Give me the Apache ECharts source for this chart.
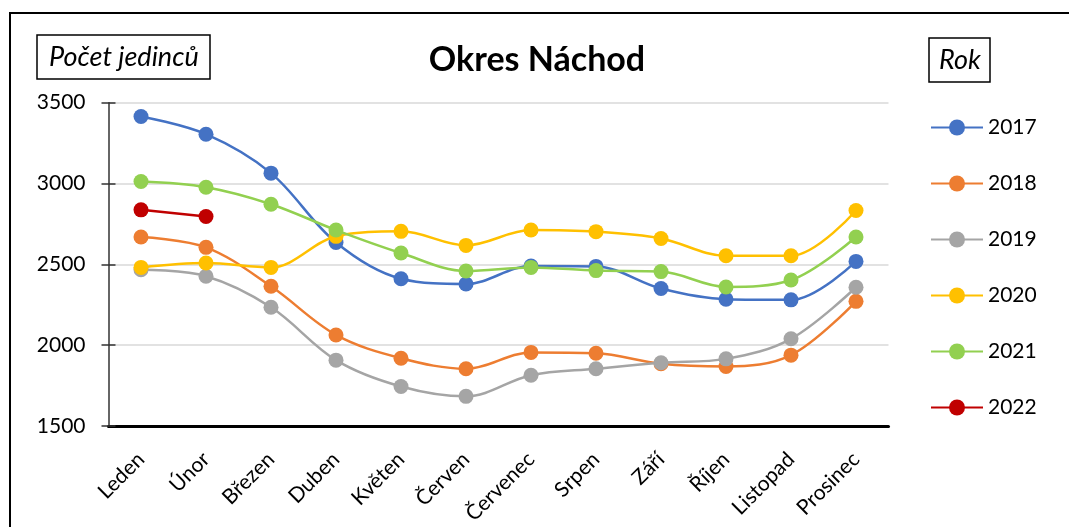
<!DOCTYPE html>
<html><head><meta charset="utf-8">
<script src="https://cdn.jsdelivr.net/npm/echarts@6/dist/echarts.min.js"></script>
<style>html,body{margin:0;padding:0;background:#fff;}#c{width:1069px;height:527px;}</style>
</head><body><div id="c"></div>
<script>
const months = ['Leden','Únor','Březen','Duben','Květen','Červen','Červenec','Srpen','Září','Říjen','Listopad','Prosinec'];
const years = ['2017','2018','2019','2020','2021','2022'];
const v2017 = [3415,3305,3064,2635,2411,2378,2490,2487,2350,2284,2280,2518];
const v2018 = [2669,2605,2364,2063,1919,1854,1955,1950,1885,1868,1938,2271];
const v2019 = [2467,2426,2234,1907,1744,1683,1814,1854,1891,1915,2039,2358];
const v2020 = [2481,2508,2481,2673,2704,2617,2712,2702,2660,2553,2553,2833];
const v2021 = [3012,2977,2872,2712,2570,2459,2481,2461,2455,2360,2403,2669];
const v2022 = [2837,2796,null,null,null,null,null,null,null,null,null,null];
const yTicks = [1500,2000,2500,3000,3500];
const colors = ['#4472C4','#ED7D31','#A5A5A5','#FFC000','#92D050','#C00000'];
const values = [v2017,v2018,v2019,v2020,v2021,v2022];
const FONT = 'Lato';

const chart = echarts.init(document.getElementById('c'), null, {renderer:'canvas'});
const series = years.map((y,i)=>({
  name:y, type:'line', data:values[i], smooth:0.35, symbol:'circle', symbolSize:15,
  showAllSymbol:true, connectNulls:false,
  lineStyle:{color:colors[i], width:2.5}, itemStyle:{color:colors[i]},
  emphasis:{disabled:true}, z:2+i
}));
chart.setOption({
  animation:false,
  textStyle:{fontFamily:FONT},
  title:[
    {text:'Okres Náchod', left:532, top:38, textAlign:'center',
     textStyle:{fontFamily:FONT, fontSize:34, fontWeight:'bold', color:'#000'}},
    {text:'Počet jedinců', left:37, top:35, borderColor:'#000', borderWidth:1.5, padding:[7,12,7,12],
     textStyle:{fontFamily:FONT, fontSize:27, fontStyle:'italic', fontWeight:'normal', color:'#000', lineHeight:30}},
    {text:'Rok', left:929, top:38, borderColor:'#000', borderWidth:1.5, padding:[7,10,7,10],
     textStyle:{fontFamily:FONT, fontSize:27, fontStyle:'italic', fontWeight:'normal', color:'#000', lineHeight:30}}
  ],
  legend:{
    orient:'vertical', left:930, top:117, itemWidth:52, itemHeight:20, itemGap:35, padding:0,
    data:years, textStyle:{fontFamily:FONT, fontSize:21, color:'#000'},
    selectedMode:false
  },
  graphic:[{type:'rect', shape:{x:10, y:13, width:1080, height:540},
    style:{fill:'none', stroke:'#000', lineWidth:2}, silent:true, z:100}],
  grid:{left:108.5, right:180.5, top:102.7, bottom:100.3, containLabel:false},
  xAxis:{type:'category', data:months, boundaryGap:true,
    axisLine:{lineStyle:{color:'#000', width:3}}, axisTick:{show:false},
    axisLabel:{rotate:45, interval:0, fontSize:21, color:'#000', fontFamily:FONT, margin:30},
    splitLine:{show:false}},
  yAxis:[
    {type:'value', min:yTicks[0], max:yTicks[yTicks.length-1], interval:500,
     axisLine:{show:true, lineStyle:{color:'#333', width:1.5}},
     axisTick:{show:true, inside:false, length:7, lineStyle:{color:'#333', width:1.5}},
     axisLabel:{fontSize:21, color:'#000', fontFamily:FONT, margin:23, formatter:(v)=>String(v)},
     splitLine:{show:true, lineStyle:{color:'#D9D9D9', width:1.5}}},
    {type:'value', min:yTicks[0], max:yTicks[yTicks.length-1], interval:500, position:'left',
     axisLine:{show:false}, axisTick:{show:true, inside:true, length:7, lineStyle:{color:'#333', width:1.5}},
     axisLabel:{show:false}, splitLine:{show:false}}
  ],
  series:series
});
</script></body></html>
